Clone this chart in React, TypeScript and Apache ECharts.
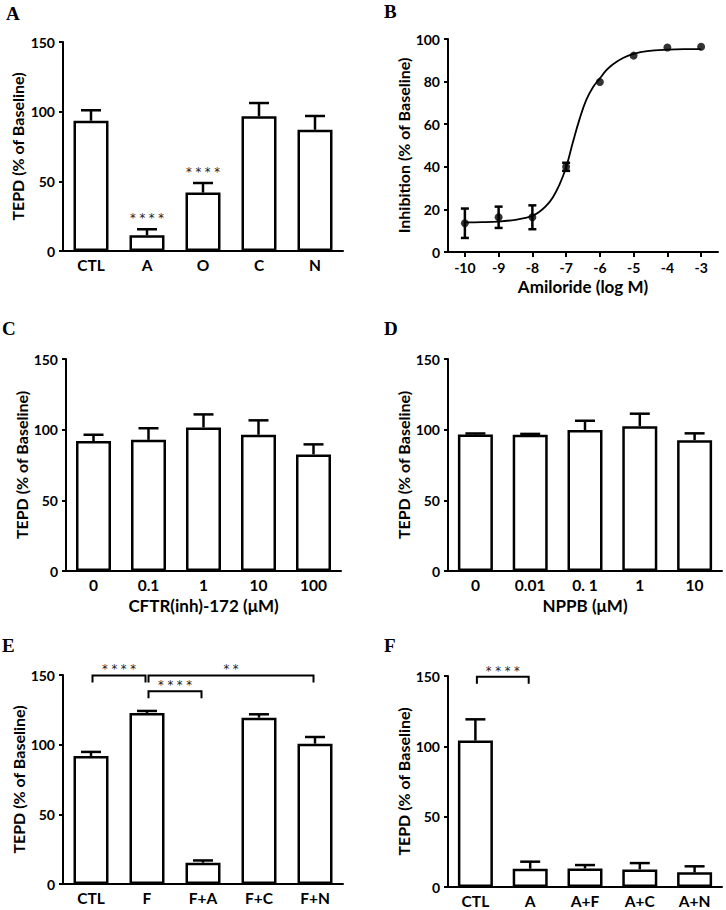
import React, { useEffect, useRef } from 'react';
import * as echarts from 'echarts';

// Panel A
const catsA = ['CTL', 'A', 'O', 'C', 'N'];
const meanA = [93.5, 11.3, 41.9, 96.7, 87.0];
const semA = [7.5, 4.3, 6.9, 9.5, 9.9];
const sigA = ['', '****', '****', '', ''];

// Panel B
const doseB = [-10, -9, -8, -7, -6, -5, -4, -3];
const inhB = [13.5, 16.3, 16.3, 40.0, 79.8, 92.2, 96.0, 96.4];
const semB = [6.9, 5.0, 5.6, 1.9, 0, 0, 0, 0];
const fitX = [-10, -9.5, -9, -8.5, -8.2, -8, -7.8, -7.6, -7.4, -7.2, -7.0, -6.8, -6.6, -6.4, -6.2, -6.0, -5.8, -5.6, -5.3, -5.0, -4.6, -4.0, -3.5, -3.0];
const fitY = [13.9, 14.0, 14.3, 15.1, 16.0, 17.0, 18.8, 21.5, 25.5, 31.5, 39.8, 51.5, 62.5, 71.5, 77.5, 81.5, 85.5, 88.3, 91.2, 93.0, 94.3, 95.0, 95.2, 95.2];
const ticksB = [-10, -9, -8, -7, -6, -5, -4, -3];

// Panel C
const catsC = ['0', '0.1', '1', '10', '100'];
const meanC = [91.9, 92.8, 101.6, 96.4, 82.5];
const semC = [4.5, 8.2, 9.2, 10.2, 7.1];

// Panel D
const catsD = ['0', '0.01', '0. 1', '1', '10'];
const meanD = [96.6, 96.4, 99.7, 102.5, 92.6];
const semD = [0.7, 0.6, 6.6, 8.8, 4.8];

// Panel E
const catsE = ['CTL', 'F', 'F+A', 'F+C', 'F+N'];
const meanE = [91.9, 122.8, 15.3, 119.4, 100.7];
const semE = [2.9, 1.4, 1.6, 2.4, 4.8];
const brFromE = [0, 1, 1];
const brToE = [1, 4, 2];
const brYE = [149.7, 149.7, 138.3];
const brSigE = ['****', '**', '****'];

// Panel F
const catsF = ['CTL', 'A', 'A+F', 'A+C', 'A+N'];
const meanF = [104.1, 13.0, 13.2, 12.5, 10.4];
const semF = [15.1, 5.0, 2.4, 4.5, 4.3];
const brFromF = [0];
const brToF = [1];
const brYF = [149.5];
const brSigF = ['****'];

const FONT = 'Lato, "Open Sans", sans-serif';
const STAR_FONT = '"DejaVu Sans", "Liberation Sans", sans-serif';

const spaced = (s: string) => s.split('').join(' ');

const axisLine = { show: true, lineStyle: { color: '#000', width: 2 } };
const tickLabel = { color: '#000', fontFamily: FONT, fontWeight: 'bold' as const, fontSize: 14 };
const yNameStyle = { color: '#000', fontFamily: FONT, fontWeight: 'bold' as const, fontSize: 16 };
const xNameStyle = { color: '#000', fontFamily: FONT, fontWeight: 'bold' as const, fontSize: 17 };
const starStyle = { align: 'center', verticalAlign: 'middle', fontSize: 11.5, fontFamily: STAR_FONT, fill: '#1a1a1a' };

function barPanel(i: number, cats: string[], mean: number[], sem: number[], sig: string[] | null,
  nameGap: number, xName?: string) {
  const xAxis: any = {
    type: 'category', gridIndex: i, data: cats,
    axisLine, axisTick: { show: false },
    axisLabel: { ...tickLabel, fontSize: 15.5, margin: 6 },
    splitLine: { show: false },
  };
  if (xName) {
    Object.assign(xAxis, { name: xName, nameLocation: 'middle', nameGap: 26, nameTextStyle: xNameStyle });
  }
  const yAxis: any = {
    type: 'value', gridIndex: i, min: 0, max: 150, interval: 50,
    axisLine, axisTick: { show: true, inside: false, length: 4, lineStyle: { color: '#000', width: 2 } },
    axisLabel: { ...tickLabel, margin: 8 },
    splitLine: { show: false },
    name: 'TEPD (% of Baseline)', nameLocation: 'middle', nameRotate: 90, nameGap,
    nameTextStyle: yNameStyle,
  };
  const series: any[] = [
    {
      type: 'bar', xAxisIndex: i, yAxisIndex: i, data: mean, barWidth: 35,
      itemStyle: { color: '#fff', borderColor: '#000', borderWidth: 2.5 },
      silent: true,
    },
    {
      type: 'custom', xAxisIndex: i, yAxisIndex: i,
      data: mean.map((m, k) => [k, m, sem[k]]),
      encode: { x: 0, y: 1 },
      renderItem: (params: any, api: any) => {
        const x = api.value(0), m = api.value(1), e = api.value(2);
        const base = api.coord([x, m]);
        const top = api.coord([x, m + e]);
        const children: any[] = [];
        if (e > 0) {
          children.push({ type: 'line', shape: { x1: base[0], y1: base[1], x2: top[0], y2: top[1] }, style: { stroke: '#000', lineWidth: 2.5 } });
          children.push({ type: 'line', shape: { x1: top[0] - 10, y1: top[1], x2: top[0] + 10, y2: top[1] }, style: { stroke: '#000', lineWidth: 2.5 } });
        }
        const s = sig ? sig[params.dataIndex] : '';
        if (s) {
          children.push({ type: 'text', x: top[0], y: top[1] - 11, style: { text: spaced(s), ...starStyle } });
        }
        return { type: 'group', children };
      },
    },
  ];
  return { xAxis, yAxis, series };
}

function bracketSeries(i: number, from: number[], to: number[], ys: number[], sigs: string[]) {
  return {
    type: 'custom', xAxisIndex: i, yAxisIndex: i,
    data: from.map((f, k) => [f, to[k], ys[k]]),
    encode: { x: [0, 1], y: 2 },
    renderItem: (params: any, api: any) => {
      const a = api.coord([api.value(0), api.value(2)]);
      const b = api.coord([api.value(1), api.value(2)]);
      const x1 = a[0] + 1.5, x2 = b[0] - 1.5, y = a[1];
      return {
        type: 'group',
        children: [
          { type: 'polyline', shape: { points: [[x1, y + 7], [x1, y], [x2, y], [x2, y + 7]] }, style: { stroke: '#000', lineWidth: 2, fill: 'none' } },
          { type: 'text', x: (x1 + x2) / 2, y: y - 6, style: { text: spaced(sigs[params.dataIndex]), ...starStyle } },
        ],
      };
    },
  };
}

export default function App() {
  const ref = useRef<HTMLDivElement>(null);
  useEffect(() => {
    if (!ref.current) return;
    const chart = echarts.init(ref.current, undefined, { renderer: 'svg' });

    const pA = barPanel(0, catsA, meanA, semA, sigA, 38);
    const pC = barPanel(2, catsC, meanC, semC, null, 32, 'CFTR(inh)-172 (\u03bcM)');
    const pD = barPanel(3, catsD, meanD, semD, null, 32, 'NPPB (\u03bcM)');
    const pE = barPanel(4, catsE, meanE, semE, null, 30);
    const pF = barPanel(5, catsF, meanF, semF, null, 31);

    const xB: any = {
      type: 'value', gridIndex: 1, min: -10.5, max: -2.5,
      axisLine: { ...axisLine, onZero: false },
      axisTick: { show: true, length: 5, lineStyle: { color: '#000', width: 2 }, customValues: ticksB },
      axisLabel: { ...tickLabel, margin: 8, customValues: ticksB },
      splitLine: { show: false },
      name: 'Amiloride (log M)', nameLocation: 'middle', nameGap: 26,
      nameTextStyle: xNameStyle,
    };
    const yB: any = {
      type: 'value', gridIndex: 1, min: 0, max: 100, interval: 20,
      axisLine, axisTick: { show: true, length: 4, lineStyle: { color: '#000', width: 2 } },
      axisLabel: { ...tickLabel, margin: 8 },
      splitLine: { show: false },
      name: 'Inhibition (% of Baseline)', nameLocation: 'middle', nameRotate: 90, nameGap: 34,
      nameTextStyle: yNameStyle,
    };
    const seriesB: any[] = [
      {
        type: 'line', xAxisIndex: 1, yAxisIndex: 1,
        data: fitX.map((x, k) => [x, fitY[k]]),
        smooth: 0.4, showSymbol: false, silent: true,
        lineStyle: { color: '#000', width: 1.8 },
      },
      {
        type: 'custom', xAxisIndex: 1, yAxisIndex: 1,
        data: doseB.map((x, k) => [x, inhB[k], semB[k]]),
        encode: { x: 0, y: 1 },
        renderItem: (params: any, api: any) => {
          const x = api.value(0), m = api.value(1), e = api.value(2);
          if (!(e > 0)) return { type: 'group', children: [] };
          const hi = api.coord([x, m + e]);
          const lo = api.coord([x, m - e]);
          const st = { stroke: '#000', lineWidth: 2.5 };
          return {
            type: 'group',
            children: [
              { type: 'line', shape: { x1: hi[0], y1: hi[1], x2: lo[0], y2: lo[1] }, style: st },
              { type: 'line', shape: { x1: hi[0] - 4, y1: hi[1], x2: hi[0] + 4, y2: hi[1] }, style: st },
              { type: 'line', shape: { x1: lo[0] - 4, y1: lo[1], x2: lo[0] + 4, y2: lo[1] }, style: st },
            ],
          };
        },
      },
      {
        type: 'scatter', xAxisIndex: 1, yAxisIndex: 1,
        data: doseB.map((x, k) => [x, inhB[k]]),
        symbol: 'circle', symbolSize: 8, itemStyle: { color: '#000' }, silent: true,
      },
    ];

    const letter = (t: string, x: number, y: number) => ({
      type: 'text', left: x, top: y,
      style: { text: t, fontFamily: '"Liberation Serif", "Times New Roman", serif', fontWeight: 'bold', fontSize: 19, fill: '#000' },
    });

    chart.setOption({
      animation: false,
      backgroundColor: '#fff',
      textStyle: { fontFamily: FONT },
      grid: [
        { left: 63, top: 42, width: 280, height: 209 },
        { left: 448, top: 39, width: 270, height: 213 },
        { left: 66, top: 359, width: 275, height: 212 },
        { left: 448, top: 359, width: 274, height: 212 },
        { left: 63, top: 675, width: 280, height: 209 },
        { left: 448, top: 676, width: 274, height: 211 },
      ],
      xAxis: [pA.xAxis, xB, pC.xAxis, pD.xAxis, pE.xAxis, pF.xAxis],
      yAxis: [pA.yAxis, yB, pC.yAxis, pD.yAxis, pE.yAxis, pF.yAxis],
      series: [
        ...pA.series, ...seriesB, ...pC.series, ...pD.series, ...pE.series, ...pF.series,
        bracketSeries(4, brFromE, brToE, brYE, brSigE),
        bracketSeries(5, brFromF, brToF, brYF, brSigF),
      ],
      graphic: [
        letter('A', 6, 4),
        letter('B', 384, 2),
        letter('C', 2, 319),
        letter('D', 384, 319),
        letter('E', 2, 636),
        letter('F', 384, 636),
      ],
    });
    return () => chart.dispose();
  }, []);
  return <div ref={ref} style={{ position: 'absolute', left: 0, top: 0, width: 726, height: 910 }} />;
}
